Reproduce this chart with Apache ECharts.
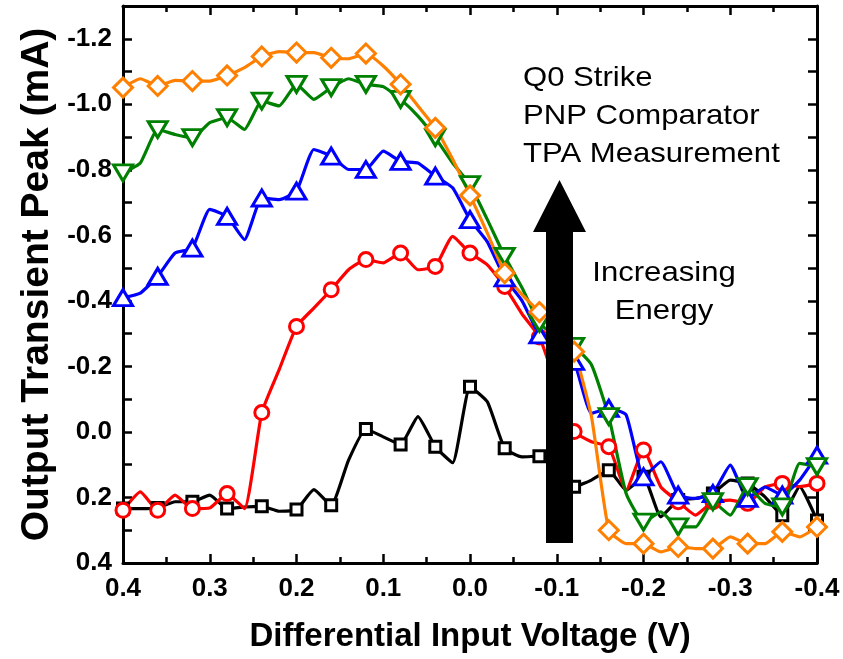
<!DOCTYPE html>
<html>
<head>
<meta charset="utf-8">
<script src="https://cdn.jsdelivr.net/npm/echarts@6/dist/echarts.min.js"></script>
<style>html,body{margin:0;padding:0;background:#fff}#c{width:843px;height:659px}</style>
</head>
<body>
<div id="c"></div>
<script>
// Differential input voltage (V)
const voltages = [0.40,0.38,0.36,0.34,0.32,0.30,0.28,0.26,0.24,0.22,0.20,0.18,0.16,0.14,0.12,0.10,0.08,0.06,0.04,0.02,0.00,
  -0.02,-0.04,-0.06,-0.08,-0.10,-0.12,-0.14,-0.16,-0.18,-0.20,-0.22,-0.24,-0.26,-0.28,-0.30,-0.32,-0.34,-0.36,-0.38,-0.40];
// Output transient peak (mA)
const blackPeak = [0.234,0.234,0.232,0.213,0.213,0.193,0.234,0.229,0.227,0.242,0.237,0.176,0.224,0.086,-0.009,0.015,0.038,-0.047,0.045,0.094,-0.138,
  -0.092,0.050,0.076,0.074,0.12,0.167,0.147,0.117,0.178,0.137,0.259,0.208,0.203,0.188,0.147,0.157,0.198,0.254,0.167,0.27];
const redPeak = [0.239,0.183,0.239,0.193,0.234,0.232,0.188,0.234,-0.059,-0.19,-0.322,-0.378,-0.434,-0.495,-0.526,-0.516,-0.546,-0.495,-0.505,-0.597,-0.546,
  -0.51,-0.444,-0.36,-0.29,-0.14,-0.001,0.030,0.045,0.178,0.055,0.168,0.213,0.254,0.213,0.208,0.218,0.168,0.157,0.167,0.157];
const bluePeak = [-0.41,-0.424,-0.475,-0.546,-0.561,-0.679,-0.658,-0.587,-0.714,-0.709,-0.735,-0.862,-0.842,-0.801,-0.801,-0.857,-0.826,-0.821,-0.781,-0.745,-0.648,
  -0.58,-0.47,-0.40,-0.296,-0.26,-0.215,-0.057,-0.072,-0.052,0.137,0.091,0.193,0.203,0.188,0.101,0.203,0.168,0.193,0.147,0.071];
const greenPeak = [-0.791,-0.821,-0.923,-0.908,-0.898,-0.944,-0.959,-0.923,-1.010,-0.995,-1.061,-1.015,-1.051,-1.078,-1.061,-1.054,-1.015,-0.964,-0.898,-0.821,-0.755,
  -0.648,-0.536,-0.44,-0.332,-0.29,-0.261,-0.205,-0.047,0.188,0.275,0.244,0.290,0.290,0.213,0.254,0.167,0.218,0.229,0.096,0.106];
const orangePeak = [-1.051,-1.078,-1.056,-1.073,-1.071,-1.071,-1.088,-1.112,-1.146,-1.161,-1.158,-1.158,-1.142,-1.139,-1.155,-1.117,-1.061,-0.995,-0.928,-0.832,-0.722,
  -0.607,-0.485,-0.419,-0.366,-0.30,-0.245,-0.047,0.300,0.341,0.341,0.366,0.351,0.356,0.356,0.320,0.341,0.341,0.305,0.320,0.290];
const xTickLabels = ['-0.4','-0.3','-0.2','-0.1','0.0','0.1','0.2','0.3','0.4'];
const annotationLines = ['Q0 Strike','PNP Comparator','TPA Measurement'];
const arrowLabel = ['Increasing','Energy'];

const FONT = '"Liberation Sans", Arial, sans-serif';
const chart = echarts.init(document.getElementById('c'));

function pairs(ys){ return voltages.map((v,i)=>[v, ys[i]]); }
function mk(name, ys, color, symbol, size, rotate){
  return {
    name, type:'line', data: pairs(ys), smooth: 0.15,
    symbol: (val, p) => (p.dataIndex % 2 === 0 ? symbol : 'none'),
    symbolSize: size, symbolRotate: rotate || 0, showAllSymbol: true,
    lineStyle:{color, width:3.2},
    itemStyle:{color:'#fff', borderColor: color, borderWidth:3},
    emphasis:{disabled:true}, z: 2
  };
}

const axisLine = {show:true, onZero:false, lineStyle:{color:'#000', width:3}};
const tickStyle = {show:true, inside:true, length:9, lineStyle:{color:'#000', width:2.5}};
const labelStyle = {fontFamily: FONT, fontWeight:'bold', fontSize:26, color:'#000'};

chart.setOption({
  animation:false,
  grid:{left:123, right:26, top:6, bottom:96, containLabel:false},
  xAxis:[{
    type:'value', min:-0.4, max:0.4, interval:0.1, inverse:true,
    axisLine, axisTick: tickStyle,
    minorTick:{show:true, splitNumber:2, length:6, lineStyle:{color:'#000', width:2.5}},
    splitLine:{show:false}, minorSplitLine:{show:false},
    axisLabel:Object.assign({margin:13, showMinLabel:true, showMaxLabel:true,
      formatter:(v)=>{ const s=(Math.abs(v)<1e-9?0:v).toFixed(1); return xTickLabels.includes(s)?s:''; }}, labelStyle),
    name:'Differential Input Voltage (V)', nameLocation:'middle', nameGap:57,
    nameTextStyle:{fontFamily:FONT, fontWeight:'bold', fontSize:33, color:'#000'}
  },{
    type:'value', min:-0.4, max:0.4, interval:0.1, inverse:true, position:'top',
    axisLine, axisTick: tickStyle,
    minorTick:{show:true, splitNumber:2, length:6, lineStyle:{color:'#000', width:2.5}},
    splitLine:{show:false}, axisLabel:{show:false}
  }],
  yAxis:[{
    type:'value', min:-1.3, max:0.4, interval:0.1, inverse:true,
    axisLine, axisTick: tickStyle, splitLine:{show:false},
    axisLabel:Object.assign({margin:11, showMinLabel:true, showMaxLabel:true,
      formatter:(v)=>{ const k=Math.round(v*10); return (k%2===0)?(k===0?'0.0':(k/10).toFixed(1)):''; }}, labelStyle),
    name:'Output Transient Peak (mA)', nameLocation:'middle', nameGap:66,
    nameTextStyle:{fontFamily:FONT, fontWeight:'bold', fontSize:39, color:'#000'}
  },{
    type:'value', min:-1.3, max:0.4, interval:0.1, inverse:true, position:'right',
    axisLine, axisTick: tickStyle, splitLine:{show:false}, axisLabel:{show:false}
  }],
  series:[
    mk('black', blackPeak, '#000000', 'rect', 11),
    mk('red', redPeak, '#ff0000', 'circle', 14),
    mk('blue', bluePeak, '#0000ff', 'triangle', [19,16]),
    mk('green', greenPeak, '#008000', 'triangle', [19,16], 180),
    mk('orange', orangePeak, '#ff8000', 'diamond', 19)
  ],
  graphic:[
    {type:'polygon', z:100, shape:{points:[[546,543],[573,543],[573,232],[586,232],[559.5,180],[533,232],[546,232]]}, style:{fill:'#000'}},
    ...annotationLines.map((t,i)=>({type:'text', z:100, x:523, y:64+i*38, scaleX:1.11,
      style:{text:t, x:0, y:0, font:'28px '+FONT, fill:'#000', textAlign:'left', textVerticalAlign:'alphabetic'}})),
    ...arrowLabel.map((t,i)=>({type:'text', z:100, x:664, y:259+i*38.5, scaleX:1.11,
      style:{text:t, x:0, y:0, font:'28px '+FONT, fill:'#000', textAlign:'center', textVerticalAlign:'alphabetic'}}))
  ]
});
</script>
</body>
</html>
